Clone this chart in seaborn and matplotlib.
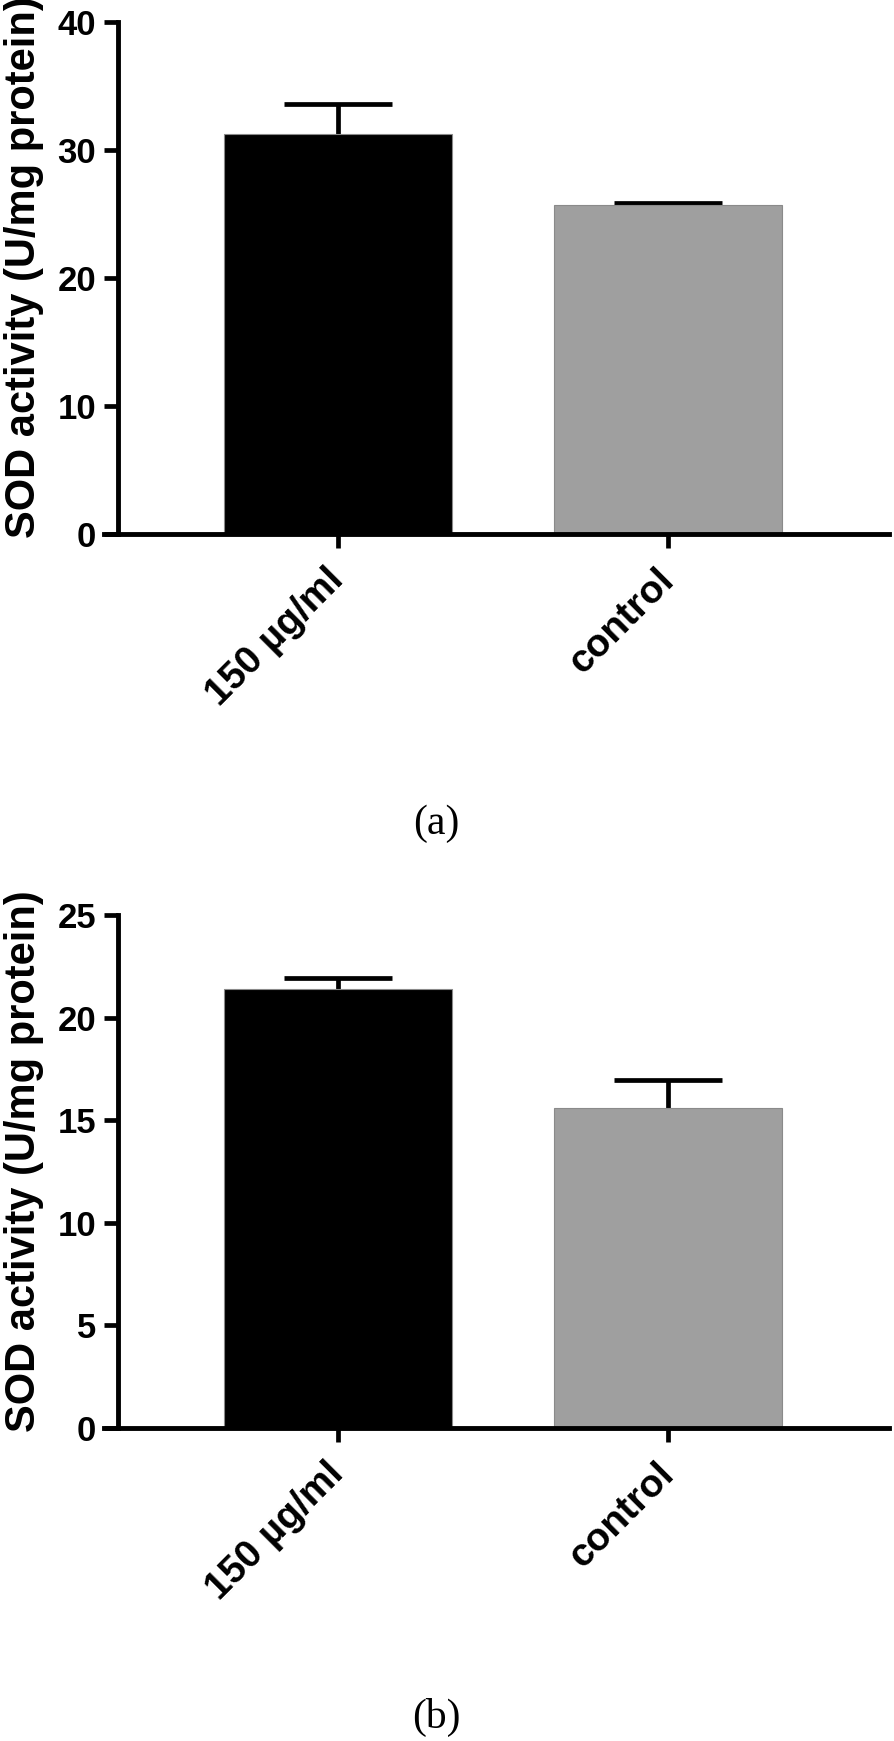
"""
SOD activity bar charts, two stacked panels (a) and (b).
"""

import matplotlib
matplotlib.use("Agg")
import matplotlib.pyplot as plt
import seaborn as sns

# ---- data ----
groups = ["150 µg/ml", "control"]
sod_a = [31.2, 25.7]
sem_a = [2.4, 0.15]
sod_b = [21.4, 15.6]
sem_b = [0.55, 1.35]
yticks_a = [0, 10, 20, 30, 40]
yticks_b = [0, 5, 10, 15, 20, 25]
bar_colors = ["#000000", "#9f9f9f"]
panel_tags = ["(a)", "(b)"]

W, H = 894, 1741
DPI = 100

sns.set_style("ticks")
plt.rcParams["font.family"] = ["Liberation Sans", "DejaVu Sans"]
plt.rcParams["font.weight"] = "bold"
for key in ("text.color", "axes.labelcolor", "xtick.color", "ytick.color"):
    plt.rcParams[key] = "black"


def draw_panel(ax, values, errs, yticks):
    sns.barplot(
        x=groups,
        y=values,
        hue=groups,
        palette=bar_colors,
        width=0.69,
        edgecolor="#8a8a8a",
        linewidth=0.8,
        errorbar=None,
        legend=False,
        ax=ax,
    )
    for p in ax.patches:
        p.set_zorder(1)
    # error bars sit behind the bars so only the upper half shows
    ax.errorbar(
        x=[0, 1],
        y=values,
        yerr=errs,
        fmt="none",
        ecolor="black",
        elinewidth=3.4,
        capsize=39,
        capthick=3.4,
        zorder=0.9,
    )

    ax.set_xlim(-0.71, 1.669)
    ax.set_ylim(yticks[0], yticks[-1])
    ax.set_yticks(yticks)
    ax.set_xticks([0, 1])
    ax.set_xticklabels(groups, rotation=45, ha="right", va="center",
                       rotation_mode="anchor", fontsize=28, fontweight="bold",
                       color="black")

    sns.despine(ax=ax)
    ax.spines["left"].set_position(("data", -0.667))
    for side in ("left", "bottom"):
        ax.spines[side].set_linewidth(3.5)
        ax.spines[side].set_color("black")

    ax.tick_params(axis="y", length=10, width=3.4, pad=6, labelsize=25,
                   color="black", labelcolor="black")
    ax.tick_params(axis="x", length=10, width=3.4, pad=19, color="black")
    for lab in ax.get_yticklabels():
        lab.set_fontweight("bold")

    ax.set_xlabel("")
    ax.set_ylabel("SOD activity (U/mg protein)", fontsize=30,
                  fontweight="bold", color="black")
    ax.yaxis.set_label_coords(-0.0764, 0.52)


fig = plt.figure(figsize=(W / DPI, H / DPI), dpi=DPI)
fig.patch.set_facecolor("white")

left = 104 / W
width = 785 / W
ax_a = fig.add_axes([left, 1 - 534 / H, width, 512.3 / H])
ax_b = fig.add_axes([left, 1 - 1428 / H, width, 513 / H])
for ax in (ax_a, ax_b):
    ax.set_facecolor("none")

draw_panel(ax_a, sod_a, sem_a, yticks_a)
draw_panel(ax_b, sod_b, sem_b, yticks_b)

serif = ["Liberation Serif", "DejaVu Serif"]
fig.text(436 / W, 1 - 823.5 / H, panel_tags[0], ha="center", va="center",
         family=serif, fontweight="normal", fontsize=30, color="black")
fig.text(436 / W, 1 - 1717 / H, panel_tags[1], ha="center", va="center",
         family=serif, fontweight="normal", fontsize=30, color="black")

fig.savefig("out.png", dpi=DPI, facecolor="white")
